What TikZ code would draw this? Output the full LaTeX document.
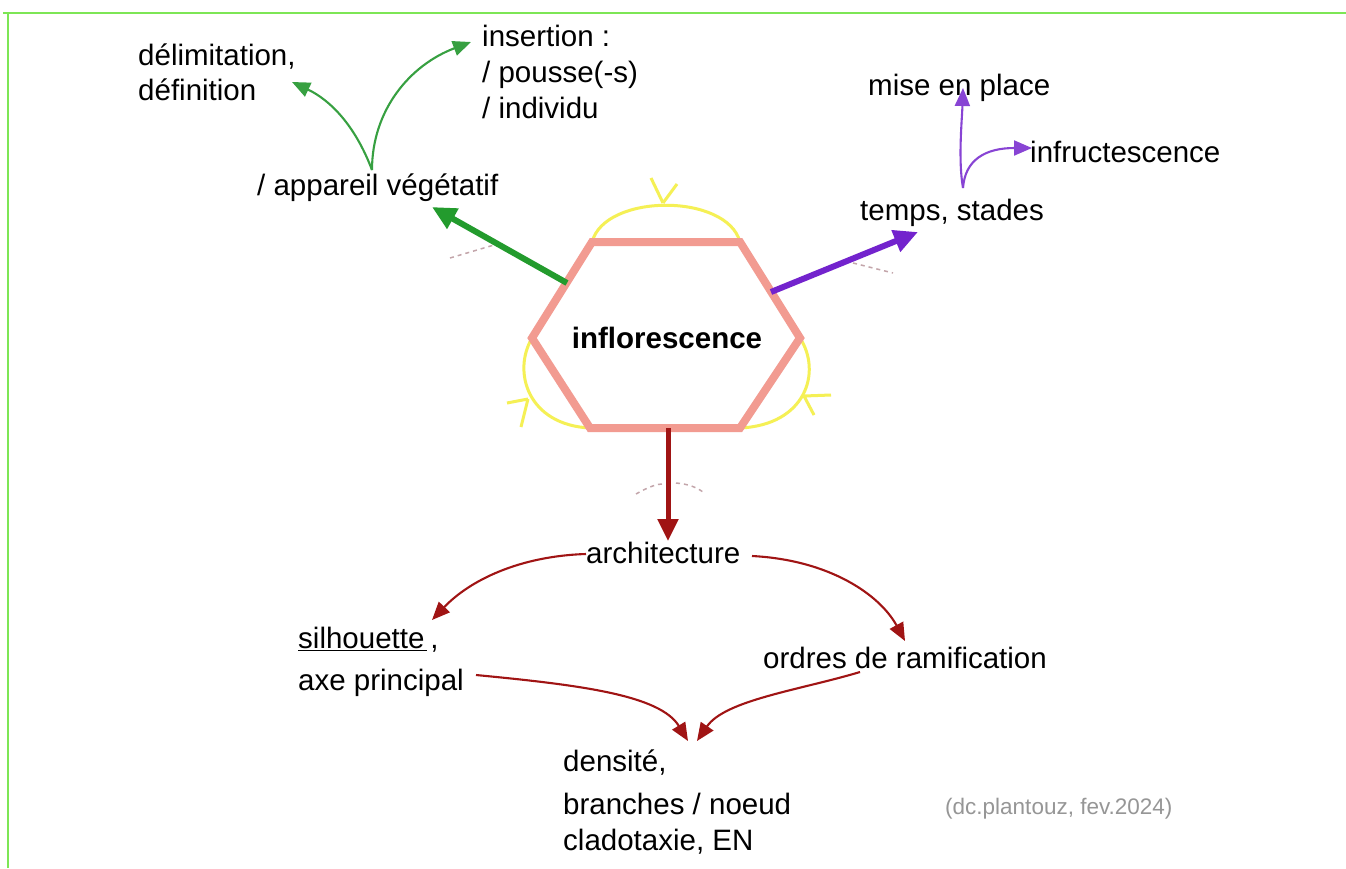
\documentclass[tikz,border=0pt]{standalone}
\usepackage{fontspec}
\setmainfont{Liberation Sans}
\usetikzlibrary{arrows.meta}
\definecolor{frameGreen}{RGB}{125,230,85}
\definecolor{hexPink}{RGB}{242,155,145}
\definecolor{arcYellow}{RGB}{245,240,85}
\definecolor{vegGreen}{RGB}{35,155,45}
\definecolor{thinGreen}{RGB}{55,160,65}
\definecolor{stadePurple}{RGB}{115,35,205}
\definecolor{archRed}{RGB}{160,20,20}
\definecolor{dashGrey}{RGB}{195,165,170}
\definecolor{signGrey}{RGB}{150,150,150}
\begin{document}
\begin{tikzpicture}[x=1pt,y=-1pt,
  lbl/.style={inner sep=0pt, font=\fontsize{29.5}{36}\selectfont, align=left, anchor=base west},
  frame/.style={draw=frameGreen, line width=2pt},
  hexline/.style={draw=hexPink, line width=8pt, line join=miter},
  arcline/.style={draw=arcYellow, line width=3pt},
  thick arrow/.style={line width=6pt, -{Triangle[length=24pt,width=22pt]}},
  thin arrow/.style={line width=2.1pt, -{Triangle[length=18pt,width=15pt]}},
  faint/.style={draw=dashGrey, line width=1.5pt, dash pattern=on 4pt off 4pt}]
\useasboundingbox (0,0) rectangle (1346,868);
\fill[white] (0,0) rectangle (1346,868);

% page frame
\draw[frame] (3,13) -- (1346,13);
\draw[frame] (8,13) -- (8,868);

% central hexagon and its yellow arcs
\coordinate (h1) at (592,242);
\coordinate (h2) at (740,242);
\coordinate (h3) at (800,338);
\coordinate (h4) at (740,428);
\coordinate (h5) at (590,428);
\coordinate (h6) at (532,338);
\draw[arcline] (h1) .. controls (605,193) and (727,193) .. (h2);
\draw[arcline] (663,203) -- (651,178) (663,203) -- (677,184);
\draw[arcline] (h6) .. controls (512,372) and (528,425) .. (h5);
\draw[arcline] (528,399) -- (507,403) (528,399) -- (521,427);
\draw[arcline] (h3) .. controls (822,372) and (806,425) .. (h4);
\draw[arcline] (804,396) -- (831,395) (804,396) -- (814,415);
\draw[hexline] (h1) -- (h2) -- (h3) -- (h4) -- (h5) -- (h6) -- cycle;
\node[inner sep=0pt, font=\fontsize{29.5}{36}\selectfont\bfseries] (infl) at (667,338) {inflorescence};

% faint dashed marks across the three branches
\draw[faint] (450,258) -- (494,245);
\draw[faint] (853,263) -- (893,273);
\draw[faint] (636,494) .. controls (650,486) and (658,484) .. (662,484);
\draw[faint] (676,483) .. controls (688,484) and (696,487) .. (703,492);

% labels (multi-line labels are placed by the baseline of their last line)
\node[lbl] (delim) at (138,100) {délimitation,\\[-1pt]définition};
\node[lbl] (insert) at (482,118) {insertion :\\/ pousse(-s)\\/ individu};
\node[lbl] (veg) at (257,195) {/ appareil végétatif};
\node[lbl] (mise) at (868,95) {mise en place};
\node[lbl] (infr) at (1030,162) {infructescence};
\node[lbl] (temps) at (860,220) {temps, stades};
\node[lbl] (arch) at (586,563) {architecture};
\node[lbl] (silh) at (298,690) {\underline{silhouette\kern3pt}\kern3pt,\\[6pt]axe principal};
\node[lbl] (ordres) at (763,668) {ordres de ramification};
\node[lbl] (dens) at (563,850) {densité,\\[7pt]branches / noeud\\cladotaxie, EN};
\node[inner sep=0pt, anchor=base west, text=signGrey, font=\fontsize{22.5}{26}\selectfont] (sign) at (945,814) {(dc.plantouz, fev.2024)};

% branch end points
\coordinate (gStart) at (567,283);
\coordinate (gTip) at (432,207);
\coordinate (pStart) at (771,292);
\coordinate (pTip) at (918,232);
\coordinate (rStart) at (668,428);
\coordinate (rTip) at (668,541);

\draw[thick arrow, vegGreen] (gStart) -- (gTip);
\draw[thick arrow, stadePurple] (pStart) -- (pTip);
\draw[line width=5pt, archRed, -{Triangle[length=22pt,width=20pt]}] (rStart) -- (rTip);

% green sub-branches
\coordinate (vegFork) at (372,170);
\coordinate (delimTip) at (292,82);
\coordinate (insertTip) at (471,42);
\draw[thin arrow, thinGreen] (vegFork) .. controls (355,125) and (330,100) .. (delimTip);
\draw[thin arrow, thinGreen] (vegFork) .. controls (372,110) and (410,65) .. (insertTip);

% purple sub-branches
\coordinate (tempsFork) at (963,188);
\coordinate (miseTip) at (963,88);
\coordinate (infrTip) at (1032,148);
\draw[thin arrow, stadePurple!85!white] (tempsFork) .. controls (958,160) and (962,120) .. (miseTip);
\draw[thin arrow, stadePurple!85!white] (tempsFork) .. controls (965,160) and (985,148) .. (infrTip);

% red sub-branches
\coordinate (archL) at (586,554);
\coordinate (archR) at (752,556);
\coordinate (silhTip) at (432,620);
\coordinate (ordTip) at (905,641);
\coordinate (axeR) at (476,675);
\coordinate (ordL) at (860,672);
\coordinate (densL) at (688,741);
\coordinate (densR) at (697,741);
\draw[thin arrow, archRed] (archL) .. controls (520,556) and (470,580) .. (silhTip);
\draw[thin arrow, archRed] (archR) .. controls (830,560) and (880,595) .. (ordTip);
\draw[thin arrow, archRed] (axeR) .. controls (580,685) and (660,695) .. (densL);
\draw[thin arrow, archRed] (ordL) .. controls (800,690) and (725,700) .. (densR);
\end{tikzpicture}
\end{document}
